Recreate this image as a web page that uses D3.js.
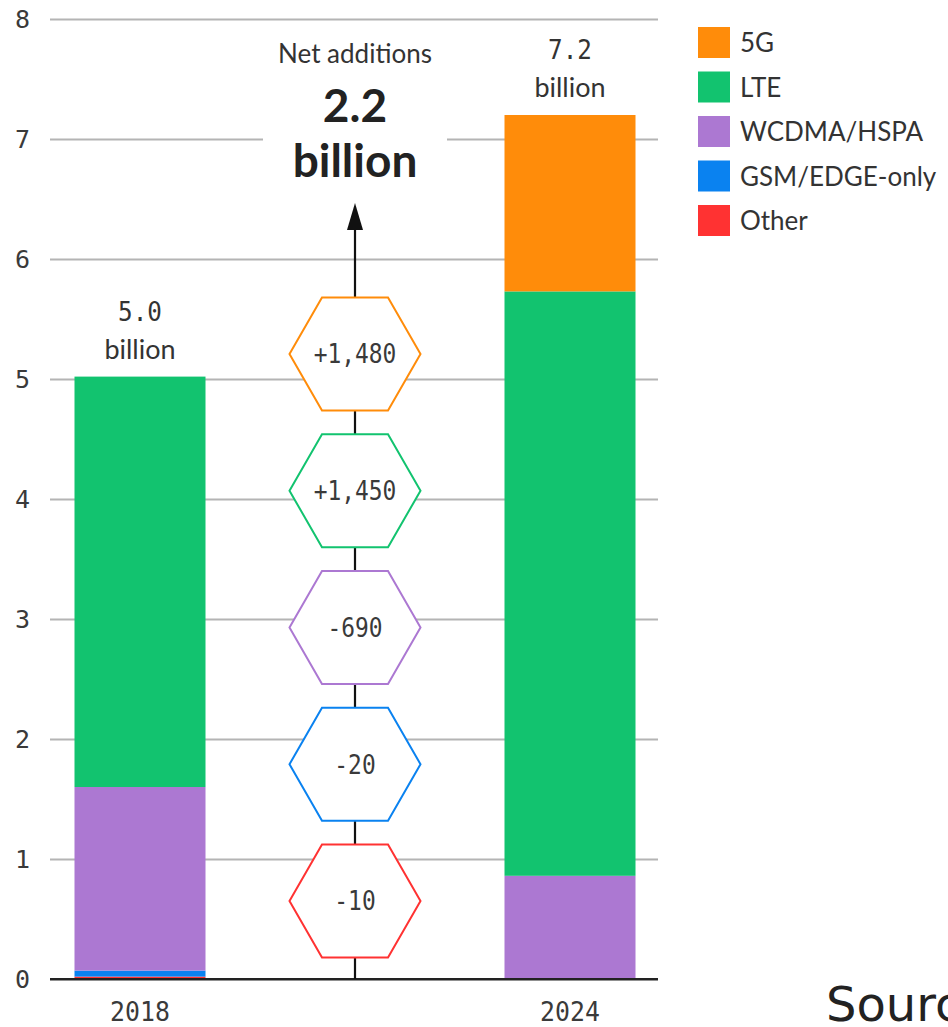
<!DOCTYPE html>
<html><head><meta charset="utf-8">
<script src="https://cdn.jsdelivr.net/npm/d3@7"></script>
<style>
html,body{margin:0;padding:0;background:#fff;overflow:hidden}
svg{display:block}
</style></head>
<body>
<svg id="c" width="948" height="1027"></svg>
<script>
// ---- data ----
const years = ["2018", "2024"];
const techs = ["Other", "GSM/EDGE-only", "WCDMA/HSPA", "LTE", "5G"]; // bottom-up
const legendOrder = ["5G", "LTE", "WCDMA/HSPA", "GSM/EDGE-only", "Other"];
const colors = ["#FF3232", "#0A82F0", "#AC78D2", "#12C36F", "#FF8C0A"];
const values2018 = [0.02, 0.05, 1.53, 3.42, 0.00];
const values2024 = [0.00, 0.00, 0.86, 4.87, 1.47];
const totals = ["5.0", "7.2"];
const netChanges = ["+1,480", "+1,450", "-690", "-20", "-10"]; // 5G, LTE, WCDMA, GSM, Other
const netTechs = ["5G", "LTE", "WCDMA/HSPA", "GSM/EDGE-only", "Other"];
const yTicks = [0, 1, 2, 3, 4, 5, 6, 7, 8];

const rows = years.map((yr, i) => {
  const r = {year: yr};
  const v = i === 0 ? values2018 : values2024;
  techs.forEach((t, j) => r[t] = v[j]);
  return r;
});

const svg = d3.select("#c");
const color = d3.scaleOrdinal().domain(techs).range(colors);
const y = d3.scaleLinear().domain([0, 8]).range([979, 19]);
const x = d3.scalePoint().domain(years).range([140, 570]);
const barW = 131;
const gridL = 50, gridR = 658;
const midX = (x("2018") + x("2024")) / 2;

const mono = "'DejaVu Sans Mono', monospace";
const sans = "Lato, 'Noto Sans', sans-serif";

// grid
const axis = svg.append("g").attr("transform", `translate(${gridL},0)`)
  .call(d3.axisLeft(y).tickValues(yTicks).tickSize(-(gridR - gridL)).tickPadding(20).tickFormat(d3.format("d")));
axis.select(".domain").remove();
axis.selectAll(".tick line").attr("stroke", "#b4b4b4").attr("stroke-width", 2);
axis.selectAll(".tick text").attr("font-family", mono).attr("font-size", 25).attr("fill", "#3a3a3a");
axis.selectAll(".tick").filter(d => d === 0).select("line").attr("stroke", "#222").attr("stroke-width", 2.2);

// white gap behind the headline on the 7 gridline
svg.append("rect").attr("x", 263).attr("y", y(7) - 3).attr("width", 184).attr("height", 6).attr("fill", "#fff");

// bars
const stacked = d3.stack().keys(techs)(rows);
svg.append("g").selectAll("g").data(stacked).join("g")
  .attr("fill", d => color(d.key))
  .selectAll("rect").data(d => d).join("rect")
  .attr("x", d => x(d.data.year) - barW / 2)
  .attr("width", barW)
  .attr("y", d => y(d[1]))
  .attr("height", d => Math.max(0, y(d[0]) - y(d[1])));

// redraw baseline on top
svg.append("line").attr("x1", gridL).attr("x2", gridR).attr("y1", y(0)).attr("y2", y(0))
  .attr("stroke", "#222").attr("stroke-width", 2.2);

// totals above bars
years.forEach((yr, i) => {
  const top = y(d3.sum(i === 0 ? values2018 : values2024));
  svg.append("text").attr("transform", `translate(${x(yr)},${top - 56}) scale(0.9,1)`)
    .attr("text-anchor", "middle")
    .attr("font-family", mono).attr("font-size", 27).attr("fill", "#333").text(totals[i]);
  svg.append("text").attr("x", x(yr)).attr("y", top - 18).attr("text-anchor", "middle")
    .attr("font-family", sans).attr("font-size", 27).attr("fill", "#333").text("billion");
});

// x labels
years.forEach(yr => {
  svg.append("text").attr("transform", `translate(${x(yr)},1021) scale(0.92,1)`).attr("text-anchor", "middle")
    .attr("font-family", mono).attr("font-size", 27).attr("fill", "#3a3a3a").text(yr);
});

// arrow line
svg.append("line").attr("x1", midX).attr("x2", midX).attr("y1", y(0)).attr("y2", 225)
  .attr("stroke", "#111").attr("stroke-width", 2.2);
svg.append("path").attr("d", `M${midX},203 L${midX - 8},230 L${midX + 8},230 Z`).attr("fill", "#111");

// hexagons
const hy = d3.scalePoint().domain(netTechs).range([354, 901]);
const hw = 65.5, hh = 56.5, he = 33;
const hexPath = `M${-hw},0 L${-he},${-hh} L${he},${-hh} L${hw},0 L${he},${hh} L${-he},${hh} Z`;
const hex = svg.append("g").selectAll("g").data(netTechs).join("g")
  .attr("transform", d => `translate(${midX},${hy(d)})`);
hex.append("path").attr("d", hexPath).attr("fill", "#fff")
  .attr("stroke", d => color(d)).attr("stroke-width", 2);
hex.append("text").attr("text-anchor", "middle").attr("dy", "0.36em")
  .attr("transform", "scale(0.88,1)")
  .attr("font-family", mono).attr("font-size", 26).attr("fill", "#3a3a3a")
  .text((d, i) => netChanges[i]);

// headline
svg.append("text").attr("x", midX).attr("y", 63).attr("text-anchor", "middle")
  .attr("font-family", sans).attr("font-size", 26).attr("fill", "#333").text("Net additions");
svg.append("text").attr("x", midX).attr("y", 122).attr("text-anchor", "middle")
  .attr("font-family", sans).attr("font-weight", 700).attr("font-size", 46).attr("fill", "#222").text("2.2");
svg.append("text").attr("x", midX).attr("y", 177).attr("text-anchor", "middle")
  .attr("font-family", sans).attr("font-weight", 700).attr("font-size", 46).attr("fill", "#222").text("billion");

// legend
const lg = svg.append("g").attr("transform", "translate(698,27)");
const li = lg.selectAll("g").data(legendOrder).join("g")
  .attr("transform", (d, i) => `translate(0,${i * 44.5})`);
li.append("rect").attr("width", 32).attr("height", 31).attr("fill", d => color(d));
li.append("text").attr("x", 42).attr("y", 16).attr("dy", "0.35em")
  .attr("font-family", sans).attr("font-size", 26).attr("fill", "#333").text(d => d);

// source (cut off at the right edge as in the reference)
svg.append("text").attr("x", 826).attr("y", 1021)
  .attr("font-family", "'DejaVu Sans', sans-serif").attr("font-size", 48).attr("fill", "#222")
  .text("Source: Ericsson");
</script>
</body></html>
